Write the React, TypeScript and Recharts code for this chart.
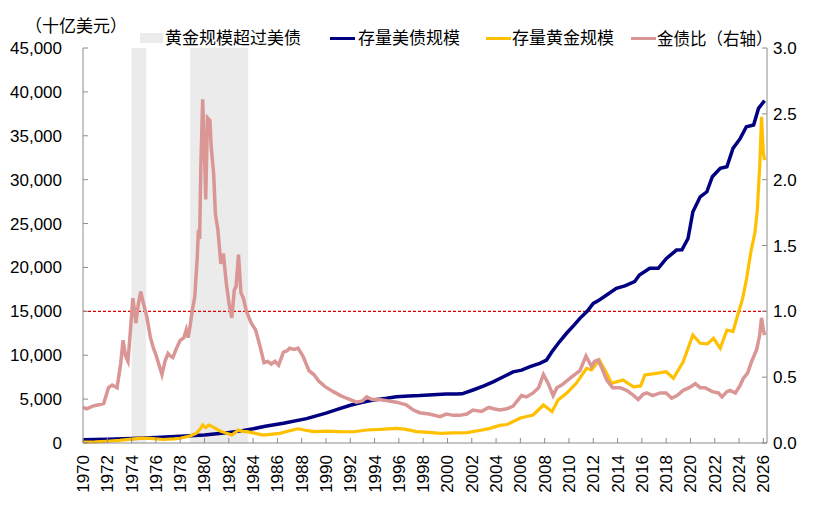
import React from 'react'
import { LineChart, Line, XAxis, YAxis, ReferenceArea, ReferenceLine } from 'recharts'

// 存量美债规模 (十亿美元)
const debtYears = [1970, 1972, 1974, 1976, 1978, 1980, 1982, 1983, 1984, 1985, 1986.5, 1988.4, 1990, 1991, 1992, 1993, 1993.9, 1995, 1995.8, 1996.8, 1997.7, 1998.8, 1999.9, 2000.7, 2001.2, 2002.1, 2003, 2003.8, 2004.6, 2005.4, 2006.1, 2006.8, 2007.6, 2008.15, 2008.6, 2009.2, 2009.8, 2010.4, 2010.9, 2011.5, 2012, 2012.5, 2013.1, 2013.9, 2014.6, 2015.4, 2015.8, 2016.65, 2017.35, 2018, 2018.85, 2019.3, 2019.8, 2020.2, 2020.8, 2021.35, 2021.8, 2022.45, 2023, 2023.5, 2024.1, 2024.6, 2025.2, 2025.6, 2026.1]
const debtValues = [370, 430, 500, 620, 760, 920, 1200, 1380, 1620, 1900, 2240, 2780, 3400, 3850, 4300, 4650, 4900, 5100, 5280, 5350, 5400, 5500, 5580, 5570, 5600, 6040, 6500, 7000, 7550, 8100, 8300, 8700, 9080, 9450, 10400, 11500, 12500, 13400, 14200, 15000, 15900, 16300, 16860, 17620, 17900, 18380, 19140, 19900, 19900, 21000, 21980, 22000, 23300, 26340, 28050, 28620, 30330, 31290, 31470, 33560, 34700, 36030, 36220, 38120, 39000]

// 存量黄金规模 (十亿美元)
const goldYears = [1970, 1971, 1972, 1973, 1974, 1974.8, 1975.5, 1976.6, 1977.5, 1978, 1978.8, 1979.3, 1979.6, 1979.85, 1980.1, 1980.35, 1980.6, 1981.3, 1982.25, 1982.8, 1983.2, 1983.5, 1984, 1984.85, 1986.2, 1987, 1987.7, 1988.3, 1989, 1990, 1991.1, 1992.3, 1993.35, 1994.5, 1995.8, 1996.6, 1997.45, 1998.5, 1999.4, 2000.5, 2001.6, 2002.5, 2003.5, 2004.3, 2004.9, 2005.5, 2006, 2007.05, 2007.9, 2008.6, 2009.1, 2009.8, 2010.6, 2011.45, 2011.86, 2012.5, 2013.1, 2013.5, 2014.45, 2015.3, 2015.9, 2016.25, 2017.2, 2018, 2018.6, 2019.4, 2020.2, 2020.8, 2021.4, 2021.9, 2022.45, 2023, 2023.5, 2023.97, 2024.3, 2024.6, 2025, 2025.3, 2025.5, 2025.7, 2025.85, 2026, 2026.1]
const goldValues = [100, 120, 200, 300, 450, 560, 520, 400, 480, 540, 800, 1100, 1500, 2050, 1750, 2050, 1900, 1350, 920, 1480, 1300, 1290, 1150, 910, 1100, 1400, 1620, 1450, 1300, 1350, 1290, 1280, 1480, 1550, 1670, 1550, 1290, 1200, 1100, 1150, 1180, 1400, 1670, 2000, 2100, 2500, 2850, 3190, 4330, 3570, 4900, 5660, 6800, 8510, 8320, 9450, 7940, 6800, 7180, 6410, 6500, 7750, 7940, 8120, 7370, 9260, 12300, 11360, 11300, 11930, 10790, 12870, 12700, 14950, 16500, 18560, 21980, 23900, 26500, 31470, 37170, 33000, 32230]

// 金债比 (右轴)
const ratioYears = [1970, 1970.3, 1970.8, 1971.3, 1971.7, 1972.1, 1972.4, 1972.8, 1973.1, 1973.3, 1973.5, 1973.7, 1973.9, 1974.1, 1974.25, 1974.35, 1974.55, 1974.75, 1974.95, 1975.25, 1975.55, 1975.8, 1976, 1976.3, 1976.5, 1976.75, 1977, 1977.2, 1977.4, 1977.7, 1978, 1978.3, 1978.5, 1978.65, 1978.8, 1979, 1979.2, 1979.4, 1979.5, 1979.6, 1979.7, 1979.85, 1980, 1980.1, 1980.25, 1980.45, 1980.55, 1980.75, 1980.9, 1981.1, 1981.35, 1981.55, 1981.8, 1982.05, 1982.25, 1982.45, 1982.6, 1982.8, 1983, 1983.2, 1983.45, 1983.85, 1984.2, 1984.5, 1984.9, 1985.2, 1985.5, 1985.8, 1986.1, 1986.5, 1986.8, 1987, 1987.4, 1987.7, 1988.1, 1988.6, 1989, 1989.4, 1989.9, 1990.6, 1991.2, 1991.7, 1992.5, 1993, 1993.35, 1993.8, 1994.4, 1995.1, 1995.8, 1996.6, 1997.2, 1997.7, 1998.5, 1999.4, 1999.9, 2000.5, 2001, 2001.6, 2002.1, 2002.8, 2003.4, 2003.8, 2004.3, 2004.9, 2005.4, 2006.1, 2006.5, 2007.05, 2007.5, 2007.9, 2008.3, 2008.7, 2009, 2009.4, 2009.8, 2010.2, 2010.9, 2011.4, 2011.86, 2012.1, 2012.4, 2012.7, 2013.1, 2013.6, 2014.2, 2014.75, 2015.2, 2015.7, 2016.1, 2016.4, 2016.9, 2017.5, 2018, 2018.45, 2018.9, 2019.4, 2019.9, 2020.4, 2020.8, 2021.2, 2021.8, 2022.3, 2022.6, 2023, 2023.25, 2023.7, 2024.1, 2024.35, 2024.7, 2025, 2025.45, 2025.7, 2025.85, 2026, 2026.1]
const ratioValues = [0.27, 0.26, 0.28, 0.29, 0.3, 0.42, 0.44, 0.42, 0.6, 0.78, 0.66, 0.62, 0.85, 1.1, 1.0, 0.91, 1.05, 1.15, 1.07, 0.96, 0.8, 0.72, 0.67, 0.58, 0.52, 0.62, 0.68, 0.66, 0.65, 0.72, 0.78, 0.8, 0.86, 0.8, 0.88, 1.01, 1.11, 1.4, 1.62, 1.55, 2.1, 2.61, 2.2, 1.85, 2.47, 2.45, 2.25, 2.05, 1.74, 1.62, 1.36, 1.44, 1.21, 1.04, 0.95, 1.16, 1.19, 1.43, 1.14, 1.1, 1.0, 0.91, 0.86, 0.76, 0.61, 0.62, 0.6, 0.62, 0.59, 0.69, 0.7, 0.72, 0.71, 0.72, 0.66, 0.55, 0.52, 0.47, 0.43, 0.39, 0.36, 0.34, 0.31, 0.32, 0.35, 0.33, 0.33, 0.32, 0.31, 0.29, 0.25, 0.23, 0.22, 0.2, 0.22, 0.21, 0.21, 0.22, 0.25, 0.24, 0.27, 0.26, 0.25, 0.26, 0.28, 0.36, 0.35, 0.38, 0.42, 0.52, 0.45, 0.36, 0.42, 0.44, 0.47, 0.5, 0.55, 0.66, 0.58, 0.62, 0.63, 0.57, 0.48, 0.42, 0.42, 0.4, 0.37, 0.33, 0.37, 0.38, 0.36, 0.38, 0.38, 0.34, 0.36, 0.4, 0.42, 0.45, 0.42, 0.42, 0.39, 0.38, 0.35, 0.39, 0.4, 0.38, 0.44, 0.49, 0.53, 0.61, 0.71, 0.82, 0.95, 0.86, 0.82]

// 黄金规模超过美债 periods
const shadeStart = [1974.0, 1978.8]
const shadeEnd = [1975.2, 1983.6]

const xTicks = [1970, 1972, 1974, 1976, 1978, 1980, 1982, 1984, 1986, 1988, 1990, 1992, 1994, 1996, 1998, 2000, 2002, 2004, 2006, 2008, 2010, 2012, 2014, 2016, 2018, 2020, 2022, 2024, 2026]
const leftTicks = [0, 5000, 10000, 15000, 20000, 25000, 30000, 35000, 40000, 45000]
const rightTicks = [0, 0.5, 1.0, 1.5, 2.0, 2.5, 3.0]

const debtData = debtYears.map((year, i) => ({ year, value: debtValues[i] }))
const goldData = goldYears.map((year, i) => ({ year, value: goldValues[i] }))
const ratioData = ratioYears.map((year, i) => ({ year, value: ratioValues[i] }))

const FONT = 'Arial, "Liberation Sans", "Noto Sans CJK SC", sans-serif'
const AXIS = '#8c8c8c'
const NAVY = '#000080'
const GOLD = '#FFC000'
const PINK = '#D99694'

const YearTick = (props: any) => {
  const { x, y, payload } = props
  return (
    <text
      x={x}
      y={y}
      transform={`rotate(-90 ${x} ${y})`}
      textAnchor="end"
      dy="0.35em"
      fontSize={17}
      fill="#000"
      fontFamily={FONT}
    >
      {payload.value}
    </text>
  )
}

const legendText: React.CSSProperties = {
  position: 'absolute',
  top: 30,
  fontSize: 17,
  lineHeight: '18px',
  whiteSpace: 'nowrap',
  color: '#000',
}

const swatch = (left: number, color: string): React.CSSProperties => ({
  position: 'absolute',
  left,
  top: 37,
  width: 25,
  height: 3,
  background: color,
})

const App = () => {
  return (
    <div style={{ position: 'absolute', left: 0, top: 0, width: 821, height: 509, background: '#fff', fontFamily: FONT }}>
      <LineChart width={821} height={509} margin={{ top: 48, right: 0, bottom: 0, left: 0 }}>
        <XAxis
          type="number"
          dataKey="year"
          domain={[1970, 2026.3]}
          ticks={xTicks}
          allowDataOverflow
          height={66}
          stroke={AXIS}
          tickSize={-5}
          tickMargin={17}
          tick={<YearTick />}
          interval={0}
        />
        <YAxis
          yAxisId="left"
          domain={[0, 45000]}
          ticks={leftTicks}
          width={83}
          stroke={AXIS}
          tickSize={-5}
          tickMargin={26}
          tick={{ fontSize: 17, fill: '#000', fontFamily: FONT }}
          tickFormatter={(v: number) => v.toLocaleString('en-US')}
          interval={0}
        />
        <YAxis
          yAxisId="right"
          orientation="right"
          domain={[0, 3]}
          ticks={rightTicks}
          width={54}
          stroke={AXIS}
          tickSize={-5}
          tickMargin={11}
          tick={{ fontSize: 17, fill: '#000', fontFamily: FONT, textAnchor: 'start' }}
          tickFormatter={(v: number) => v.toFixed(1)}
          interval={0}
        />
        {shadeStart.map((s, i) => (
          <ReferenceArea
            key={i}
            yAxisId="left"
            x1={s}
            x2={shadeEnd[i]}
            y1={0}
            y2={45000}
            fill="#ebebeb"
            fillOpacity={1}
            stroke="none"
            ifOverflow="hidden"
          />
        ))}
        <ReferenceLine yAxisId="left" y={15000} stroke="#E00000" strokeDasharray="3 2" strokeWidth={1.2} />
        <Line yAxisId="left" data={debtData} dataKey="value" name="存量美债规模" stroke={NAVY} strokeWidth={3.5} dot={false} type="linear" isAnimationActive={false} />
        <Line yAxisId="left" data={goldData} dataKey="value" name="存量黄金规模" stroke={GOLD} strokeWidth={3.2} dot={false} type="linear" isAnimationActive={false} />
        <Line yAxisId="right" data={ratioData} dataKey="value" name="金债比（右轴）" stroke={PINK} strokeWidth={3.5} dot={false} type="linear" isAnimationActive={false} />
      </LineChart>

      <div style={{ ...legendText, left: 25, top: 18 }}>（十亿美元）</div>
      <div style={{ position: 'absolute', left: 140, top: 33, width: 23, height: 10, background: '#ebebeb' }} />
      <div style={{ ...legendText, left: 165 }}>黄金规模超过美债</div>
      <div style={swatch(330, NAVY)} />
      <div style={{ ...legendText, left: 358 }}>存量美债规模</div>
      <div style={swatch(486, GOLD)} />
      <div style={{ ...legendText, left: 512 }}>存量黄金规模</div>
      <div style={swatch(631, PINK)} />
      <div style={{ ...legendText, left: 657, fontSize: 16.5 }}>金债比（右轴）</div>
    </div>
  )
}

export default App
